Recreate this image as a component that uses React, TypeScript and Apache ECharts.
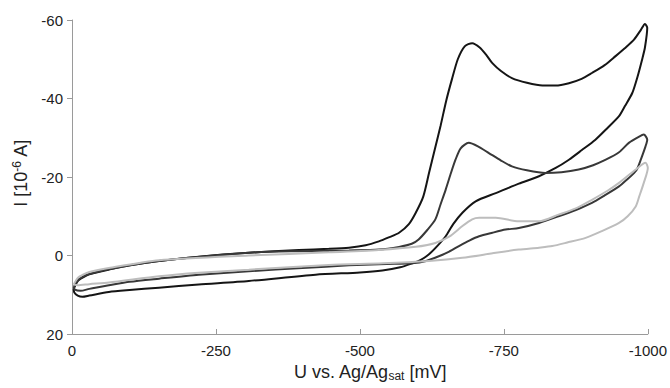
import React, { useEffect, useRef } from "react";
import * as echarts from "echarts";

const xTicks = [0, -250, -500, -750, -1000];
const yTicks = [-60, -40, -20, 0, 20];

// Black curve: forward (0 -> -1000) then reverse
const blackCurve: [number, number][] = [
  [-3, 8.5], [-10, 6.5], [-20, 5.5], [-30, 4.8], [-64, 3.6], [-100, 2.5], [-151, 1.4], [-220, 0.3],
  [-307, -0.7], [-394, -1.4], [-446, -1.7], [-481, -2], [-510, -2.6], [-533, -3.6], [-550, -4.6],
  [-568, -5.8], [-585, -8], [-597, -10.9], [-610, -15], [-620, -21], [-630, -27], [-640, -33],
  [-650, -39.5], [-660, -45], [-670, -50], [-682, -53.3], [-695, -54.1], [-708, -53], [-720, -51],
  [-730, -49], [-745, -47], [-764, -45.2], [-790, -44], [-817, -43.3], [-840, -43.3], [-863, -43.9],
  [-885, -45], [-903, -46.5], [-925, -48.5], [-944, -50.8], [-960, -52.8], [-976, -55], [-988, -57.5],
  [-995, -59], [-999, -58],
  [-995, -53], [-990, -49.9], [-982, -45.5], [-973, -41.4], [-960, -38], [-950, -35.5], [-930, -32.5],
  [-909, -29.5], [-885, -26.8], [-863, -24.4], [-840, -22.3], [-811, -20.2], [-776, -18.3], [-736, -15.9],
  [-701, -13.8], [-678, -10.9], [-662, -8], [-649, -4.9], [-635, -2.5], [-620, -0.3], [-605, 1.2],
  [-591, 2], [-570, 3], [-539, 3.8], [-500, 4.3], [-423, 4.9], [-307, 6.5], [-220, 7.4], [-151, 8.2],
  [-100, 8.8], [-64, 9.3], [-30, 10.2], [-18, 10.5], [-10, 10.2], [-4, 9.4], [-3, 8.5],
];

// Dark grey curve
const darkCurve: [number, number][] = [
  [-3, 8], [-10, 6.3], [-20, 5.3], [-30, 4.7], [-64, 3.5], [-151, 1.4], [-307, -0.7], [-394, -1.1],
  [-481, -1.3], [-533, -1.5], [-568, -2.2], [-590, -3], [-602, -4.1], [-617, -6.5], [-631, -9.2],
  [-640, -13], [-649, -16.8], [-657, -20.5], [-666, -24.4], [-675, -27.3], [-689, -28.7], [-705, -27.8],
  [-724, -26.1], [-745, -24.2], [-764, -22.7], [-790, -21.7], [-822, -21], [-850, -21.2], [-880, -21.9],
  [-905, -23], [-927, -24.4], [-950, -26.3], [-967, -28.7], [-985, -30.3], [-993, -30.8], [-999, -29.5],
  [-996, -27.8], [-988, -24.5], [-981, -21.9], [-976, -21], [-965, -19.5], [-950, -17.6], [-925, -15.3],
  [-903, -13.4], [-875, -11.6], [-845, -10], [-811, -8.3], [-776, -7], [-753, -6.6], [-730, -5.8],
  [-707, -4.9], [-690, -3.8], [-672, -2.4], [-655, -1], [-637, 0.2], [-615, 1.4], [-591, 2],
  [-560, 2.1], [-481, 2.5], [-400, 3.2], [-307, 4], [-220, 4.9], [-151, 5.9], [-100, 6.7], [-64, 7.6],
  [-30, 8.5], [-15, 9], [-5, 8.7], [-3, 8],
];

// Light grey curve
const lightCurve: [number, number][] = [
  [-3, 7.4], [-10, 5.7], [-20, 4.8], [-30, 4.2], [-64, 3.2], [-151, 1.2], [-307, 0], [-446, -0.8],
  [-533, -1.4], [-597, -2.2], [-631, -3.2], [-655, -4.8], [-678, -7.5], [-695, -9.2], [-707, -9.6],
  [-736, -9.6], [-776, -8.7], [-811, -8.7], [-845, -10.4], [-875, -12], [-903, -14.2], [-930, -16.5],
  [-950, -18.5], [-979, -21.9], [-996, -23.6], [-1000, -22.3],
  [-993, -18.5], [-985, -15], [-979, -12.5], [-965, -10], [-950, -8.3], [-920, -6.2], [-892, -4.5],
  [-860, -3.3], [-834, -2.4], [-811, -2], [-776, -1.5], [-736, -0.7], [-678, 0.6], [-620, 1.4],
  [-540, 2], [-446, 2.4], [-307, 3.6], [-220, 4.4], [-151, 5.3], [-64, 6.9], [-30, 7.3], [-10, 7.6],
  [-3, 7.4],
];

const curves = [
  { name: "black", data: blackCurve, color: "#151515" },
  { name: "dark", data: darkCurve, color: "#383838" },
  { name: "light", data: lightCurve, color: "#bdbdbd" },
];

export default function App() {
  const ref = useRef<HTMLDivElement>(null);
  useEffect(() => {
    if (!ref.current) return;
    const chart = echarts.init(ref.current, undefined, { renderer: "svg" });
    const font = "Liberation Sans, Arial, sans-serif";
    chart.setOption({
      animation: false,
      backgroundColor: "#ffffff",
      grid: { left: 72, right: 21, top: 20, bottom: 54, containLabel: false },
      xAxis: {
        type: "value",
        min: -1000,
        max: 0,
        interval: 250,
        inverse: true,
        name: "U vs. Ag/Ag{sub|sat} [mV]",
        nameLocation: "middle",
        nameGap: 23,
        nameTextStyle: {
          fontFamily: font,
          fontSize: 18,
          color: "#222",
          padding: [0, 0, 0, 20],
          rich: {
            sub: { fontSize: 12, verticalAlign: "bottom", fontFamily: font, color: "#222", padding: [9, 0, 0, 0] },
          },
        },
        axisLine: { onZero: false, lineStyle: { color: "#9a9a9a", width: 1 } },
        axisTick: { inside: true, length: 5, lineStyle: { color: "#9a9a9a" } },
        axisLabel: {
          fontFamily: font,
          fontSize: 15,
          color: "#222",
          margin: 9,
          formatter: (v: number) => (xTicks.includes(v) ? String(v) : ""),
        },
        splitLine: { show: false },
      },
      yAxis: {
        type: "value",
        min: -60,
        max: 20,
        interval: 20,
        inverse: true,
        name: "I [10{sup|-6} A]",
        nameLocation: "middle",
        nameGap: 39,
        nameTextStyle: {
          fontFamily: font,
          fontSize: 18,
          color: "#222",
          padding: [0, 0, 0, 8],
          rich: {
            sup: { fontSize: 12, verticalAlign: "top", fontFamily: font, color: "#222", padding: [0, 0, 8, 0] },
          },
        },
        axisLine: { onZero: false, lineStyle: { color: "#9a9a9a", width: 1 } },
        axisTick: { inside: false, length: 5, lineStyle: { color: "#9a9a9a" } },
        axisLabel: {
          fontFamily: font,
          fontSize: 15,
          color: "#222",
          margin: 9,
          formatter: (v: number) => (yTicks.includes(v) ? String(v) : ""),
        },
        splitLine: { show: false },
      },
      series: curves.map((c) => ({
        name: c.name,
        type: "line",
        data: c.data,
        showSymbol: false,
        smooth: 0.25,
        lineStyle: { color: c.color, width: 2 },
        itemStyle: { color: c.color },
      })),
    });
    return () => chart.dispose();
  }, []);
  return (
    <div
      ref={ref}
      style={{ position: "absolute", left: 0, top: 0, width: 670, height: 388 }}
    />
  );
}
